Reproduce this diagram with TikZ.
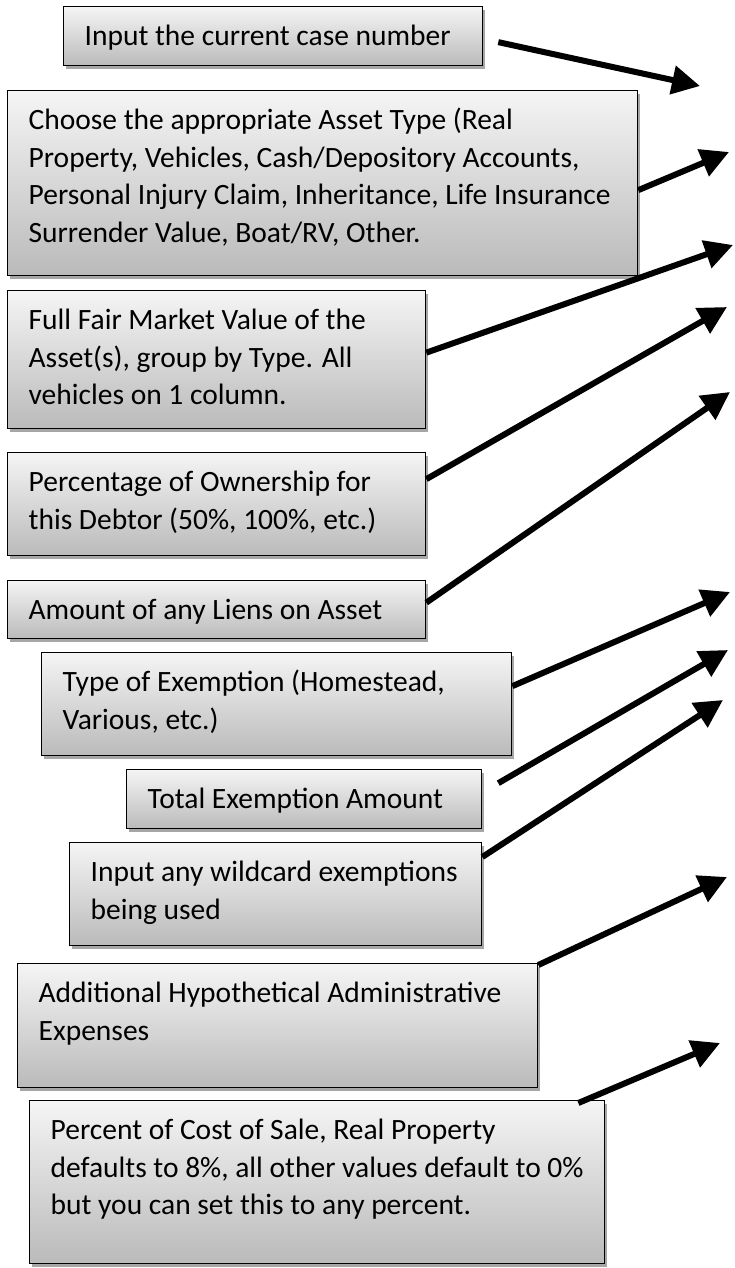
\documentclass[tikz,border=0pt]{standalone}
\usepackage{fontspec}
\setmainfont{Carlito}
\usepackage{tikz}
\usetikzlibrary{positioning,calc,shadows,arrows.meta}

% text of a note box: box width, box height, lines (top aligned)
\newcommand{\notetext}[3]{\hspace*{21pt}\parbox[t][\dimexpr#2-26pt\relax][t]{\dimexpr#1-24pt\relax}{\strut #3}\hspace*{3pt}}

\begin{document}
\begin{tikzpicture}[x=1pt, y=-1pt,
        note/.style={draw, line width=1.3pt, rectangle, anchor=north west,
            top color=black!4, bottom color=black!27,
            inner xsep=0pt, inner ysep=13pt, align=left,
            font=\fontsize{29.5}{37.5}\selectfont,
            drop shadow={shadow xshift=2pt, shadow yshift=-3pt, opacity=.35, fill=black}},
        pointer/.style={line width=6pt, -{Triangle[length=28pt, width=28pt]}}
    ]
        \useasboundingbox (0,0) rectangle (735,1268);

        \node [note] (case) at (63,6) {\notetext{419pt}{59pt}{Input the current case number}};
        \node [note] (type) at (7,90) {\notetext{630pt}{185pt}{Choose the appropriate Asset Type (Real\\Property, Vehicles, Cash/Depository Accounts,\\Personal Injury Claim, Inheritance, Life Insurance\\Surrender Value, Boat/RV, Other.}};
        \node [note] (value) at (7,290) {\notetext{418pt}{138pt}{Full Fair Market Value of the\\Asset(s), group by Type. All\\vehicles on 1 column.}};
        \node [note] (share) at (7,452) {\notetext{418pt}{103pt}{Percentage of Ownership for\\this Debtor (50\%, 100\%, etc.)}};
        \node [note] (liens) at (7,580) {\notetext{418pt}{58pt}{Amount of any Liens on Asset}};
        \node [note] (exempt) at (41,652) {\notetext{470pt}{103pt}{Type of Exemption (Homestead,\\Various, etc.)}};
        \node [note] (total) at (126,769) {\notetext{355pt}{59pt}{Total Exemption Amount}};
        \node [note] (wild) at (69,842) {\notetext{412pt}{103pt}{Input any wildcard exemptions\\being used}};
        \node [note] (admin) at (17,963) {\notetext{520pt}{124pt}{Additional Hypothetical Administrative\\Expenses}};
        \node [note] (sale) at (29,1100) {\notetext{575pt}{163pt}{Percent of Cost of Sale, Real Property\\defaults to 8\%, all other values default to 0\%\\but you can set this to any percent.}};

        % free ends of the pointers
        \coordinate (p1) at (700,86);
        \coordinate (p2) at (729,152);
        \coordinate (p3) at (733,245);
        \coordinate (p4) at (727,307);
        \coordinate (p5) at (730,392);
        \coordinate (p6) at (730,592);
        \coordinate (p7) at (728,650);
        \coordinate (p8) at (723,700);
        \coordinate (p9) at (727,877);
        \coordinate (p10) at (720,1043);

        \draw [pointer] ([xshift=15pt,yshift=-6pt]case.east) -- (p1);
        \draw [pointer] ([yshift=-7pt]type.east) -- (p2);
        \draw [pointer] ([yshift=7pt]value.east) -- (p3);
        \draw [pointer] ([yshift=25pt]share.east) -- (p4);
        \draw [pointer] ([yshift=7pt]liens.east) -- (p5);
        \draw [pointer] ([yshift=18pt]exempt.east) -- (p6);
        \draw [pointer] ([xshift=16pt,yshift=16pt]total.east) -- (p7);
        \draw [pointer] ([yshift=-15pt]wild.north east) -- (p8);
        \draw [pointer] ([yshift=-2pt]admin.north east) -- (p9);
        \draw [pointer] ([xshift=-27pt,yshift=-3pt]sale.north east) -- (p10);
    \end{tikzpicture}
\end{document}
